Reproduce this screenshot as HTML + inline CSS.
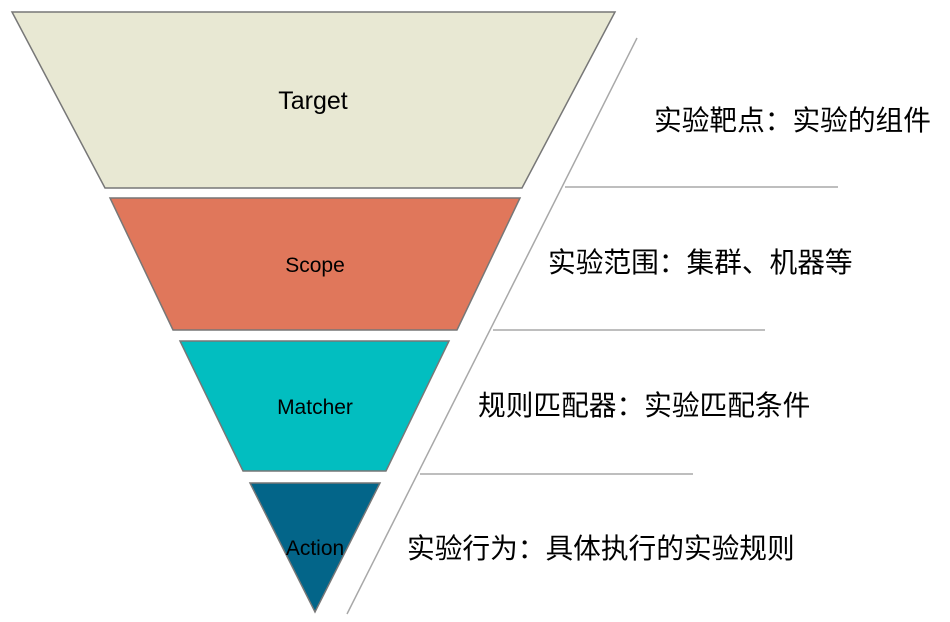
<!DOCTYPE html>
<html><head><meta charset="utf-8"><style>body{margin:0;background:#fff}</style></head>
<body>
<svg width="950" height="622" xmlns="http://www.w3.org/2000/svg" style="display:block">
<g stroke="#777" stroke-width="1.5">
<polygon points="12,12 615,12 522,188 105,188" fill="#e8e8d3"/>
<polygon points="110,198 520,198 457,330 173,330" fill="#e0775b"/>
<polygon points="180,341 449,341 386,471 243,471" fill="#02bec0"/>
<polygon points="250,483 380,483 315,612" fill="#036589"/>
</g>
<g stroke="#a8a8a8" stroke-width="1.5">
<line x1="637" y1="38" x2="347" y2="614"/>
<line x1="565" y1="187" x2="838" y2="187"/>
<line x1="493" y1="330" x2="765" y2="330"/>
<line x1="420" y1="474" x2="693" y2="474"/>
</g>
<g font-family="Liberation Sans, sans-serif" fill="#000" text-anchor="middle">
<text x="313" y="109" font-size="25">Target</text>
<text x="315" y="272" font-size="21">Scope</text>
<text x="315" y="414" font-size="21">Matcher</text>
<text x="315" y="555" font-size="21">Action</text>
</g>
<g font-family="Liberation Sans, Noto Sans CJK SC, sans-serif" fill="#000" font-size="27.7">
<text x="654" y="130">实验靶点：实验的组件</text>
<text x="548" y="272">实验范围：集群、机器等</text>
<text x="478" y="415">规则匹配器：实验匹配条件</text>
<text x="407" y="558">实验行为：具体执行的实验规则</text>
</g>
</svg>
</body></html>
